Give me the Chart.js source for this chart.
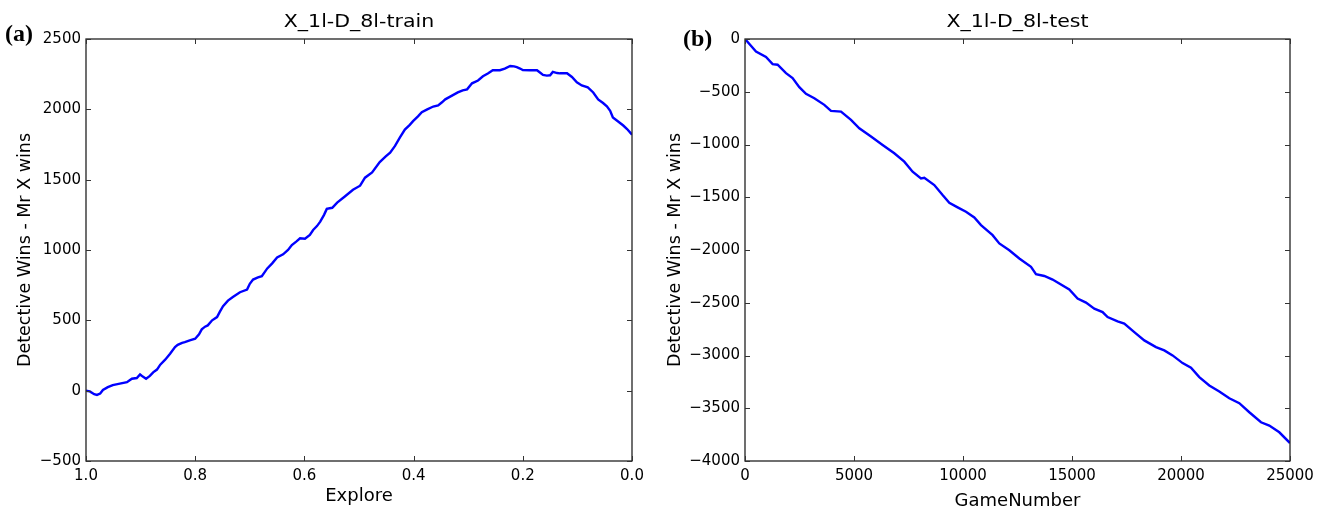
<!DOCTYPE html>
<html><head><meta charset="utf-8">
<script src="https://cdn.jsdelivr.net/npm/chart.js@4.4.1/dist/chart.umd.min.js"></script>
<style>
html,body{margin:0;padding:0;background:#fff;overflow:hidden;}
#wrap{position:relative;width:1327px;height:513px;background:#fff;}
canvas{position:absolute;top:0;}
</style></head><body>
<div id="wrap">
<canvas id="cA" width="663" height="513" style="left:0;width:663px;height:513px"></canvas>
<canvas id="cB" width="664" height="513" style="left:663px;width:664px;height:513px"></canvas>
</div>
<script>
// ---- Panel (a): training ----
const trainExplore = [1.000,0.993,0.985,0.980,0.974,0.969,0.960,0.951,0.938,0.925,0.916,0.907,0.901,0.896,0.890,0.883,0.877,0.870,0.864,0.855,0.846,0.837,0.832,0.824,0.819,0.810,0.800,0.793,0.788,0.782,0.777,0.769,0.760,0.755,0.749,0.740,0.731,0.718,0.705,0.700,0.694,0.685,0.678,0.668,0.659,0.650,0.639,0.630,0.623,0.615,0.608,0.599,0.590,0.584,0.577,0.571,0.564,0.559,0.549,0.540,0.526,0.511,0.498,0.489,0.476,0.462,0.451,0.443,0.434,0.425,0.416,0.407,0.401,0.392,0.385,0.375,0.364,0.355,0.348,0.342,0.333,0.319,0.310,0.302,0.293,0.282,0.273,0.264,0.255,0.242,0.233,0.223,0.216,0.211,0.205,0.200,0.187,0.174,0.168,0.163,0.156,0.150,0.145,0.137,0.132,0.119,0.110,0.101,0.092,0.081,0.071,0.062,0.053,0.046,0.040,0.035,0.026,0.016,0.009,0.000];
const trainWins = [0,-5,-25,-30,-20,5,25,40,50,60,85,90,115,100,85,105,130,150,185,220,262,310,326,340,345,358,369,400,436,455,464,500,523,560,600,640,666,700,719,760,790,805,814,869,905,947,969,1000,1035,1060,1083,1080,1107,1142,1170,1202,1250,1292,1300,1337,1380,1428,1457,1514,1551,1625,1665,1692,1740,1800,1856,1890,1916,1950,1980,2000,2020,2028,2050,2071,2090,2120,2135,2142,2185,2205,2235,2255,2278,2278,2290,2308,2305,2300,2290,2280,2278,2278,2260,2245,2240,2242,2266,2258,2256,2256,2230,2192,2170,2156,2120,2071,2045,2021,1990,1942,1915,1885,1860,1820];
const trainXTicks = [1.0,0.8,0.6,0.4,0.2,0.0];
const trainXTickLabels = ['1.0','0.8','0.6','0.4','0.2','0.0'];
const trainYTicks = [-500,0,500,1000,1500,2000,2500];
const trainYTickLabels = ['\u2212500','0','500','1000','1500','2000','2500'];

// ---- Panel (b): test ----
const testGame = [0,505,963,1267,1496,1881,2183,2491,2798,3179,3638,3945,4404,4862,5243,5780,6312,6848,7307,7688,8073,8225,8683,9064,9371,9753,10137,10518,10826,11358,11665,12124,12583,13119,13348,13729,14110,14875,15256,15642,16023,16403,16633,17092,17398,17857,18316,18853,19233,19614,20073,20458,20839,21298,21757,22216,22675,23134,23670,24050,24509,25000];
const testWins = [0,-118,-171,-238,-244,-323,-371,-456,-520,-561,-624,-681,-688,-767,-846,-925,-1004,-1083,-1163,-1258,-1321,-1315,-1384,-1479,-1552,-1596,-1638,-1691,-1764,-1859,-1938,-2002,-2081,-2160,-2230,-2246,-2280,-2375,-2461,-2499,-2556,-2588,-2635,-2676,-2698,-2778,-2857,-2920,-2952,-2999,-3072,-3116,-3205,-3284,-3341,-3405,-3452,-3538,-3633,-3664,-3728,-3830];
const testXTicks = [0,5000,10000,15000,20000,25000];
const testXTickLabels = ['0','5000','10000','15000','20000','25000'];
const testYTicks = [-4000,-3500,-3000,-2500,-2000,-1500,-1000,-500,0];
const testYTickLabels = ['\u22124000','\u22123500','\u22123000','\u22122500','\u22122000','\u22121500','\u22121000','\u2212500','0'];

const titles = ['X_1l-D_8l-train','X_1l-D_8l-test'];
const panelLabels = ['(a)','(b)'];
const xTitles = ['Explore','GameNumber'];
const yTitle = 'Detective Wins - Mr X wins';

function stretchText(ctx, text, x, y, sx) {
  const m = ctx.getTransform();
  ctx.save();
  ctx.setTransform(new DOMMatrix().translate(x, y).scale(sx, 1).translate(-x, -y).multiply(m));
  ctx.fillText(text, x, y);
  ctx.restore();
}

function makeChart(id, xs, ys, cfg) {
  const pts = xs.map((x, i) => ({x: x, y: ys[i]}));
  const canvas = document.getElementById(id);
  const W = canvas.width, H = canvas.height;
  const decor = {
    id: 'decor',
    afterDraw(chart) {
      const ctx = chart.ctx, ca = chart.chartArea;
      const xs_ = chart.scales.x, ys_ = chart.scales.y;
      ctx.save();
      ctx.strokeStyle = '#222';
      ctx.lineWidth = 1.3;
      ctx.strokeRect(ca.left, ca.top, ca.right - ca.left, ca.bottom - ca.top);
      ctx.lineWidth = 1;
      ctx.strokeStyle = '#333';
      const TL = 5;
      ctx.beginPath();
      cfg.xTicks.forEach(v => {
        const p = Math.round(xs_.getPixelForValue(v)) + 0.5;
        ctx.moveTo(p, ca.bottom); ctx.lineTo(p, ca.bottom - TL);
        ctx.moveTo(p, ca.top); ctx.lineTo(p, ca.top + TL);
      });
      cfg.yTicks.forEach(v => {
        const p = Math.round(ys_.getPixelForValue(v)) + 0.5;
        ctx.moveTo(ca.left, p); ctx.lineTo(ca.left + TL, p);
        ctx.moveTo(ca.right, p); ctx.lineTo(ca.right - TL, p);
      });
      ctx.stroke();
      ctx.fillStyle = '#000';
      // title
      ctx.font = '18px "DejaVu Sans"';
      ctx.textAlign = 'center';
      ctx.textBaseline = 'alphabetic';
      stretchText(ctx, cfg.title, (ca.left + ca.right) / 2, 27, 1.14);
      // x title
      ctx.font = '18px "DejaVu Sans"';
      ctx.fillText(cfg.xTitle, (ca.left + ca.right) / 2, cfg.xTitleY);
      // y title
      ctx.save();
      ctx.translate(cfg.yTitleX, (ca.top + ca.bottom) / 2);
      ctx.rotate(-Math.PI / 2);
      ctx.textBaseline = 'middle';
      ctx.font = '17.5px "DejaVu Sans"';
      ctx.fillText(yTitle, 0, 0);
      ctx.restore();
      // panel label
      ctx.font = 'bold 24px "Liberation Serif"';
      ctx.textAlign = 'left';
      ctx.fillText(cfg.panel, cfg.panelX, cfg.panelY);
      ctx.restore();
    }
  };
  return new Chart(canvas, {
    type: 'line',
    data: {datasets: [{data: pts, borderColor: '#0000ff', borderWidth: 2.4, pointRadius: 0, fill: false, tension: 0}]},
    options: {
      responsive: false, animation: false, parsing: true,
      layout: {padding: {left: 0, top: cfg.top, right: W - cfg.right, bottom: 0}},
      plugins: {legend: {display: false}, title: {display: false}, tooltip: {enabled: false}},
      scales: {
        x: {
          type: 'linear', min: cfg.xMin, max: cfg.xMax, reverse: cfg.reverse,
          afterFit: s => { s.height = H - cfg.bottom; },
          afterBuildTicks: s => { s.ticks = cfg.xTicks.map(v => ({value: v})); },
          grid: {display: false, drawTicks: false},
          border: {display: false},
          ticks: {
            autoSkip: false, maxRotation: 0, padding: 6, color: '#000',
            font: {family: 'DejaVu Sans', size: 15},
            callback: v => cfg.xLabels[cfg.xTicks.indexOf(v)]
          }
        },
        y: {
          type: 'linear', min: cfg.yMin, max: cfg.yMax,
          afterFit: s => { s.width = cfg.left; },
          afterBuildTicks: s => { s.ticks = cfg.yTicks.map(v => ({value: v})); },
          grid: {display: false, drawTicks: false},
          border: {display: false},
          ticks: {
            autoSkip: false, padding: 5, color: '#000',
            font: {family: 'DejaVu Sans', size: 15},
            callback: v => cfg.yLabels[cfg.yTicks.indexOf(v)]
          }
        }
      }
    },
    plugins: [decor]
  });
}

makeChart('cA', trainExplore, trainWins, {
  left: 86, right: 632, top: 39, bottom: 461,
  xMin: 0, xMax: 1, reverse: true, yMin: -500, yMax: 2500,
  xTicks: trainXTicks, xLabels: trainXTickLabels, yTicks: trainYTicks, yLabels: trainYTickLabels,
  title: titles[0], xTitle: xTitles[0], panel: panelLabels[0], panelX: 5, panelY: 41,
  yTitleX: 25, xTitleY: 501
});
makeChart('cB', testGame, testWins, {
  left: 82, right: 627, top: 39, bottom: 461,
  xMin: 0, xMax: 25000, reverse: false, yMin: -4000, yMax: 0,
  xTicks: testXTicks, xLabels: testXTickLabels, yTicks: testYTicks, yLabels: testYTickLabels,
  title: titles[1], xTitle: xTitles[1], panel: panelLabels[1], panelX: 20, panelY: 46,
  yTitleX: 12, xTitleY: 506
});
</script>
</body></html>
